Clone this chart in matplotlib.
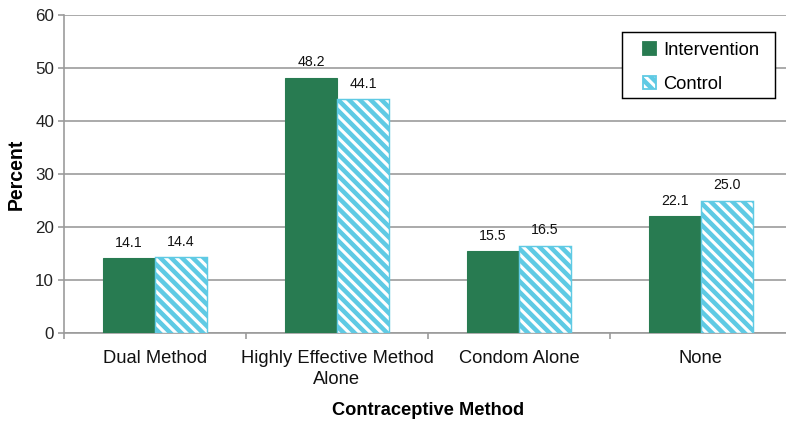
import matplotlib
matplotlib.use("Agg")
import matplotlib.pyplot as plt
import numpy as np
from matplotlib.patches import Patch, Rectangle

plt.rcParams['font.family'] = ['Liberation Sans', 'DejaVu Sans']
plt.rcParams['hatch.linewidth'] = 2.5
plt.rcParams['hatch.color'] = '#5FCAE4'

categories = ["Dual Method", "Highly Effective Method\nAlone", "Condom Alone", "None"]
intervention = [14.1, 48.2, 15.5, 22.1]
control = [14.4, 44.1, 16.5, 25.0]
y_ticks = [0, 10, 20, 30, 40, 50, 60]

DPI = 130
W, H = 786, 424
fig = plt.figure(figsize=(W / DPI, H / DPI), dpi=DPI)
# the last category slot runs a little past the right edge of the figure
ax = fig.add_axes([64 / W, 1 - 333 / H, 728 / W, 318 / H])

green = '#287B51'
blue = '#5FCAE4'
grid_c = '#9a9a9a'
hatch = '\\\\\\\\'

centers = np.arange(len(categories)) + 0.5
w = 0.286

ax.bar(centers - w / 2, intervention, width=w, color=green, edgecolor=green,
       linewidth=0.6, zorder=3)
ax.bar(centers + w / 2, control, width=w, color='white', edgecolor=blue,
       hatch=hatch, linewidth=0.8, zorder=3)

for x, v in zip(centers - w / 2, intervention):
    ax.annotate(f"{v:.1f}", (x, v), xytext=(0, 4.5), textcoords='offset points',
                ha='center', va='bottom', fontsize=7.8, color='#111111')
for x, v in zip(centers + w / 2, control):
    ax.annotate(f"{v:.1f}", (x, v), xytext=(0, 4.5), textcoords='offset points',
                ha='center', va='bottom', fontsize=7.8, color='#111111')

ax.set_xlim(0, len(categories))
ax.set_ylim(0, 60)
ax.set_yticks(y_ticks)
ax.set_yticklabels([str(t) for t in y_ticks], fontsize=9.4, color='#222222')
ax.yaxis.grid(True, color=grid_c, linewidth=0.9, zorder=0)
ax.set_axisbelow(True)

ax.set_xticks(np.arange(len(categories) + 1))
ax.set_xticklabels([])
ax.set_xticks(centers, minor=True)
ax.set_xticklabels(categories, minor=True, fontsize=10.2, color='#111111',
                   linespacing=1.3)
ax.tick_params(axis='x', which='major', length=3.5, color=grid_c, width=0.9)
ax.tick_params(axis='x', which='minor', length=0, pad=9.5)
ax.tick_params(axis='y', length=3.5, color=grid_c, width=0.9, pad=2)

for s in ['top', 'right']:
    ax.spines[s].set_visible(False)
for s in ['left', 'bottom']:
    ax.spines[s].set_color(grid_c)
    ax.spines[s].set_linewidth(0.9)

ax.set_ylabel("Percent", fontsize=10.8, fontweight='bold', labelpad=5)
ax.set_xlabel("Contraceptive Method", fontsize=10.1, fontweight='bold', labelpad=8)

# legend box drawn as its own frame so the side padding can be wider than the top
fig.patches.append(Rectangle((622 / W, 1 - 98 / H), 153 / W, 66 / H,
                             transform=fig.transFigure, facecolor='white',
                             edgecolor='black', linewidth=0.8, zorder=5))
handles = [Patch(facecolor=green, edgecolor=green, label='Intervention'),
           Patch(facecolor='white', edgecolor=blue, hatch=hatch, label='Control')]
leg = fig.legend(handles=handles, loc='upper left',
                 bbox_to_anchor=(643 / W, 1 - 42 / H),
                 fontsize=10.2, frameon=False,
                 handlelength=0.68, handleheight=0.68, handletextpad=0.4,
                 labelspacing=0.92, borderpad=0, borderaxespad=0)
leg.set_zorder(6)

fig.savefig("out.png", dpi=DPI)
